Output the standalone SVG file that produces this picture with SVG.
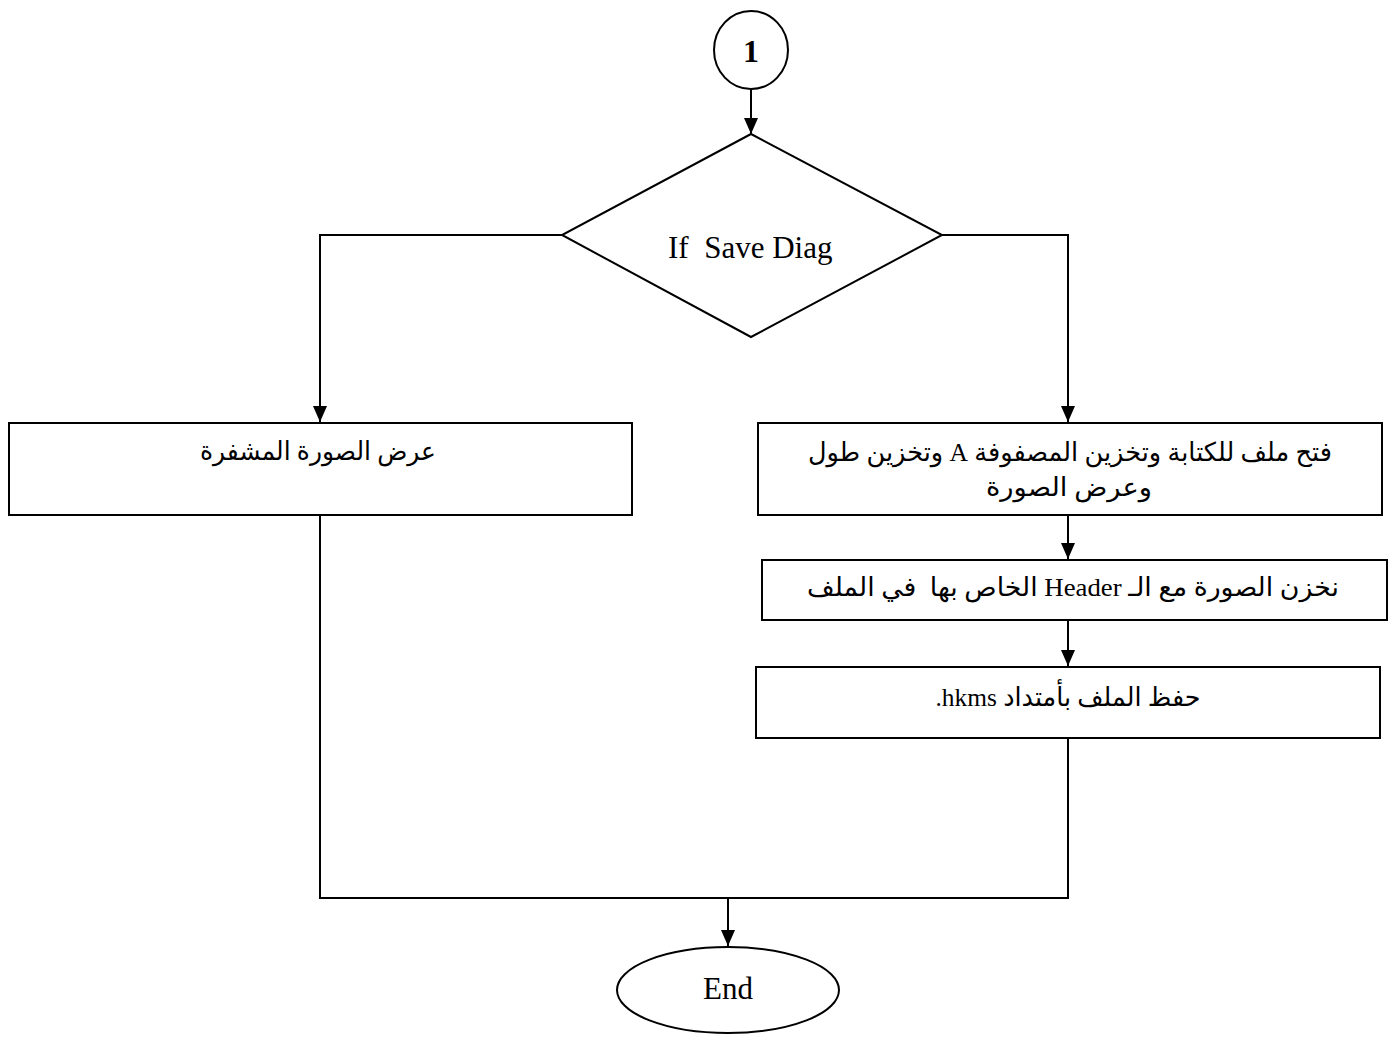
<svg xmlns="http://www.w3.org/2000/svg" width="1397" height="1038" viewBox="0 0 1397 1038">
<style>
.shape{fill:#fff;stroke:#000;stroke-width:2}
.conn{fill:none;stroke:#000;stroke-width:2}
.lat{font-family:"Liberation Serif","DejaVu Serif",serif;fill:#000}
.ar{font-family:"Liberation Serif","DejaVu Sans",sans-serif;fill:#000;font-size:26px}
</style>
<defs>
<marker id="arr" markerUnits="userSpaceOnUse" markerWidth="16" markerHeight="14" refX="16" refY="7" orient="auto">
<path d="M0,0 L16,7 L0,14 z" fill="#000"/>
</marker>
</defs>
<g id="connectors">
<line class="conn" x1="751" y1="89" x2="751" y2="134" marker-end="url(#arr)"/>
<polyline class="conn" points="562,235 320,235 320,422" marker-end="url(#arr)"/>
<polyline class="conn" points="942,235 1068,235 1068,422" marker-end="url(#arr)"/>
<line class="conn" x1="1068" y1="515" x2="1068" y2="559" marker-end="url(#arr)"/>
<line class="conn" x1="1068" y1="620" x2="1068" y2="666" marker-end="url(#arr)"/>
<polyline class="conn" points="320,515 320,898 1068,898 1068,738"/>
<line class="conn" x1="728" y1="898" x2="728" y2="946" marker-end="url(#arr)"/>
</g>
<g id="start">
<ellipse class="shape" cx="751" cy="50" rx="37" ry="39"/>
<text class="lat" x="751" y="62" text-anchor="middle" font-size="32" font-weight="bold">1</text>
</g>
<g id="decision">
<polygon class="shape" points="751,134 942,235 751,337 562,235"/>
<text class="lat" x="668" y="258" font-size="31" style="white-space:pre">If  Save Diag</text>
</g>
<g id="show">
<rect class="shape" x="9" y="423" width="623" height="92"/>
<text class="ar" x="318" y="460" text-anchor="middle" direction="rtl" textLength="236" lengthAdjust="spacingAndGlyphs">عرض الصورة المشفرة</text>
</g>
<g id="openfile">
<rect class="shape" x="758" y="423" width="624" height="92"/>
<text class="ar" x="1070" y="461" text-anchor="middle" direction="rtl" textLength="524" lengthAdjust="spacingAndGlyphs">فتح ملف للكتابة وتخزين المصفوفة A وتخزين طول</text>
<text class="ar" x="1069" y="496" text-anchor="middle" direction="rtl" textLength="166" lengthAdjust="spacingAndGlyphs">وعرض الصورة</text>
</g>
<g id="storeheader">
<rect class="shape" x="762" y="560" width="625" height="60"/>
<text class="ar" x="1073" y="596" text-anchor="middle" direction="rtl" textLength="532" lengthAdjust="spacingAndGlyphs" style="white-space:pre">نخزن الصورة مع الـ Header الخاص بها  في الملف</text>
</g>
<g id="savefile">
<rect class="shape" x="756" y="667" width="624" height="71"/>
<text class="ar" x="1068" y="706" text-anchor="middle" direction="rtl" textLength="265" lengthAdjust="spacingAndGlyphs">حفظ الملف بأمتداد hkms.</text>
</g>
<g id="end">
<ellipse class="shape" cx="728" cy="990" rx="111" ry="43"/>
<text class="lat" x="728" y="999" text-anchor="middle" font-size="31">End</text>
</g>
</svg>
